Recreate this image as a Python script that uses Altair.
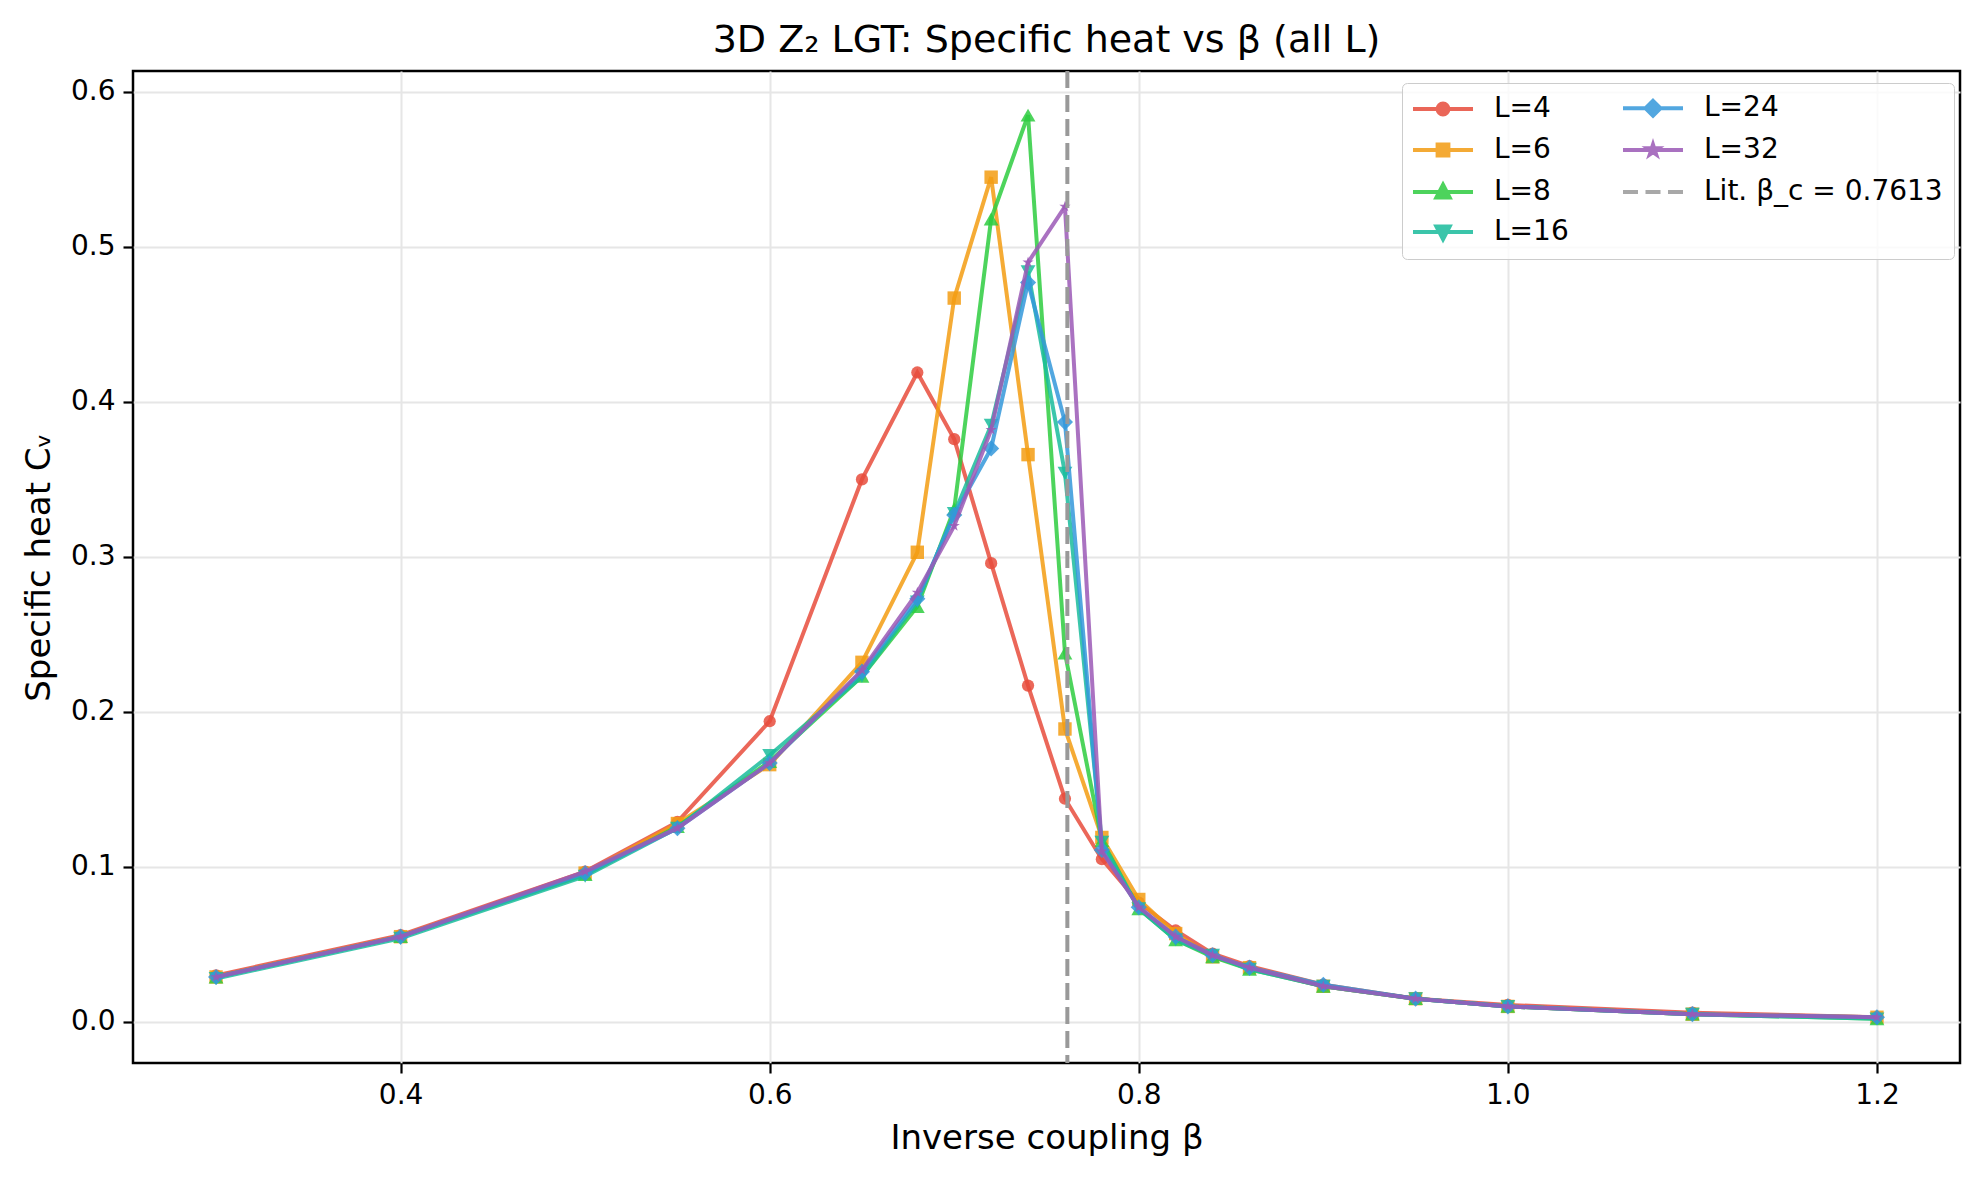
import altair as alt
import pandas as pd

beta = [0.3, 0.4, 0.5, 0.55, 0.6, 0.65, 0.68, 0.7, 0.72, 0.74, 0.76, 0.78,
        0.8, 0.82, 0.84, 0.86, 0.9, 0.95, 1.0, 1.1, 1.2]

cv_L4 = [0.030, 0.056, 0.097, 0.129, 0.194, 0.350, 0.419, 0.376, 0.296, 0.217, 0.144,
         0.105, 0.077, 0.059, 0.044, 0.036, 0.024, 0.015, 0.011, 0.006, 0.003]
cv_L6 = [0.029, 0.055, 0.096, 0.128, 0.166, 0.232, 0.303, 0.467, 0.545, 0.366, 0.189,
         0.119, 0.079, 0.057, 0.042, 0.035, 0.023, 0.015, 0.010, 0.005, 0.003]
cv_L8 = [0.029, 0.055, 0.095, 0.126, 0.168, 0.223, 0.268, 0.331, 0.518, 0.585, 0.238,
         0.117, 0.073, 0.053, 0.042, 0.034, 0.023, 0.015, 0.010, 0.005, 0.002]
cv_L16 = [0.028, 0.054, 0.094, 0.125, 0.172, 0.223, 0.271, 0.328, 0.385, 0.484, 0.354,
          0.116, 0.073, 0.053, 0.043, 0.034, 0.023, 0.015, 0.010, 0.005, 0.002]
cv_L24 = [0.029, 0.055, 0.096, 0.125, 0.167, 0.226, 0.273, 0.327, 0.370, 0.477, 0.387,
          0.111, 0.074, 0.055, 0.043, 0.035, 0.024, 0.015, 0.010, 0.005, 0.003]
cv_L32 = [0.029, 0.055, 0.097, 0.125, 0.167, 0.227, 0.277, 0.320, 0.382, 0.490, 0.526,
          0.110, 0.074, 0.055, 0.043, 0.035, 0.023, 0.015, 0.010, 0.005, 0.003]

series_names = ["L=4", "L=6", "L=8", "L=16", "L=24", "L=32"]
series_values = [cv_L4, cv_L6, cv_L8, cv_L16, cv_L24, cv_L32]
series_colors = ["#e74c3c", "#f39c12", "#2ecc40", "#1abc9c", "#3498db", "#9b59b6"]

beta_c = 0.7613
lit_label = "Lit. β_c = 0.7613"
lit_color = "#999999"

STAR = ("M0,-1L0.223,-0.307L0.951,-0.309L0.361,0.117L0.588,0.809L0,0.38"
        "L-0.588,0.809L-0.361,0.117L-0.951,-0.309L-0.223,-0.307Z")
plot_shapes = ["circle", "square", "triangle-up", "triangle-down", "diamond", STAR]
plot_sizes = [150, 180, 220, 220, 260, 140]

# legend glyphs: line segment + marker (units scaled by sqrt(symbolSize)/2)
LINE = "M-2.5,0H2.5"
leg_marker = {
    "L=4": "M0.45,0A0.45,0.45,0,1,1,-0.45,0A0.45,0.45,0,1,1,0.45,0Z",
    "L=6": "M-0.45,-0.45H0.45V0.45H-0.45Z",
    "L=8": "M0,-0.6L0.55,0.45H-0.55Z",
    "L=16": "M0,0.6L0.55,-0.45H-0.55Z",
    "L=24": "M0,-0.62L0.62,0L0,0.62L-0.62,0Z",
    "L=32": ("M0,-0.45L0.1,-0.14L0.43,-0.14L0.16,0.05L0.26,0.36L0,0.17"
             "L-0.26,0.36L-0.16,0.05L-0.43,-0.14L-0.1,-0.14Z"),
}
DASHED = "M-2.5,0H-1.25M-0.625,0H0.625M1.25,0H2.5"

rows = []
for name, vals in zip(series_names, series_values):
    for b, v in zip(beta, vals):
        rows.append({"beta": b, "cv": v, "series": name})
df = pd.DataFrame(rows)

x_scale = alt.Scale(domain=[0.255, 1.245], nice=False, zero=False)
y_scale = alt.Scale(domain=[-0.0265, 0.6135], nice=False, zero=False)

x_axis = alt.Axis(title="Inverse coupling β", values=[0.4, 0.6, 0.8, 1.0, 1.2], format=".1f")
y_axis = alt.Axis(title="Specific heat Cᵥ", values=[0.0, 0.1, 0.2, 0.3, 0.4, 0.5, 0.6], format=".1f")

layers = []
for i, name in enumerate(series_names):
    sub = df[df.series == name]
    base = alt.Chart(sub).encode(
        x=alt.X("beta:Q", scale=x_scale, axis=x_axis),
        y=alt.Y("cv:Q", scale=y_scale, axis=y_axis),
    )
    layers.append(base.mark_line(color=series_colors[i], strokeWidth=4, opacity=0.85))
    layers.append(base.mark_point(filled=True, shape=plot_shapes[i], size=plot_sizes[i],
                                  color=series_colors[i], opacity=0.85))

rule = alt.Chart(pd.DataFrame({"beta": [beta_c]})).mark_rule(
    color=lit_color, strokeWidth=4, strokeDash=[17, 7]
).encode(x=alt.X("beta:Q", scale=x_scale))
layers.append(rule)

# legend: two columns, filled column-wise
leg_order = series_names + [lit_label]
col_of = dict(zip(series_names, series_colors))
col_of[lit_label] = lit_color
shape_of = {k: LINE + v for k, v in leg_marker.items()}
shape_of[lit_label] = DASHED
leg_colors = [col_of[k] for k in leg_order]
leg_shapes = [shape_of[k] for k in leg_order]

legend = alt.Legend(
    title=None, orient="none", legendX=1269, legendY=12, columns=2,
    symbolSize=576, symbolStrokeWidth=4, symbolOpacity=0.85, symbolOffset=16,
    labelOffset=37, labelFont="DejaVu Sans", labelFontSize=28, labelColor="black",
    rowPadding=12, columnPadding=46, padding=11,
    fillColor="rgba(255,255,255,0.8)", strokeColor="#cccccc", cornerRadius=5,
    labelLimit=400,
)
leg_layer = alt.Chart(df).transform_filter("false").mark_point(filled=True).encode(
    x=alt.X("beta:Q", scale=x_scale),
    y=alt.Y("cv:Q", scale=y_scale),
    fill=alt.Fill("series:N", scale=alt.Scale(domain=leg_order, range=leg_colors), legend=legend),
    stroke=alt.Stroke("series:N", scale=alt.Scale(domain=leg_order, range=leg_colors), legend=legend),
    shape=alt.Shape("series:N", scale=alt.Scale(domain=leg_order, range=leg_shapes), legend=legend),
)
layers.append(leg_layer)

chart = alt.layer(*layers).properties(
    width=1827, height=992,
    title=alt.TitleParams("3D Z₂ LGT: Specific heat vs β (all L)", font="DejaVu Sans",
                          fontSize=38, fontWeight="normal", color="black", offset=9),
    autosize=alt.AutoSizeParams(type="none"),
    padding={"left": 125, "top": 63, "right": 11, "bottom": 109},
).configure_view(
    stroke="black", strokeWidth=2.5
).configure_axis(
    domain=False, grid=True, gridColor="#e6e6e6", gridWidth=2,
    tickColor="black", tickSize=10, tickWidth=2.2,
    labelFont="DejaVu Sans", labelFontSize=28, labelColor="black", labelPadding=8,
    titleFont="DejaVu Sans", titleFontSize=34, titleFontWeight="normal", titleColor="black",
)
chart = chart.configure_axisX(titlePadding=12).configure_axisY(titlePadding=14)

chart.save("out.html", embed_options={"renderer": "svg", "actions": False})
